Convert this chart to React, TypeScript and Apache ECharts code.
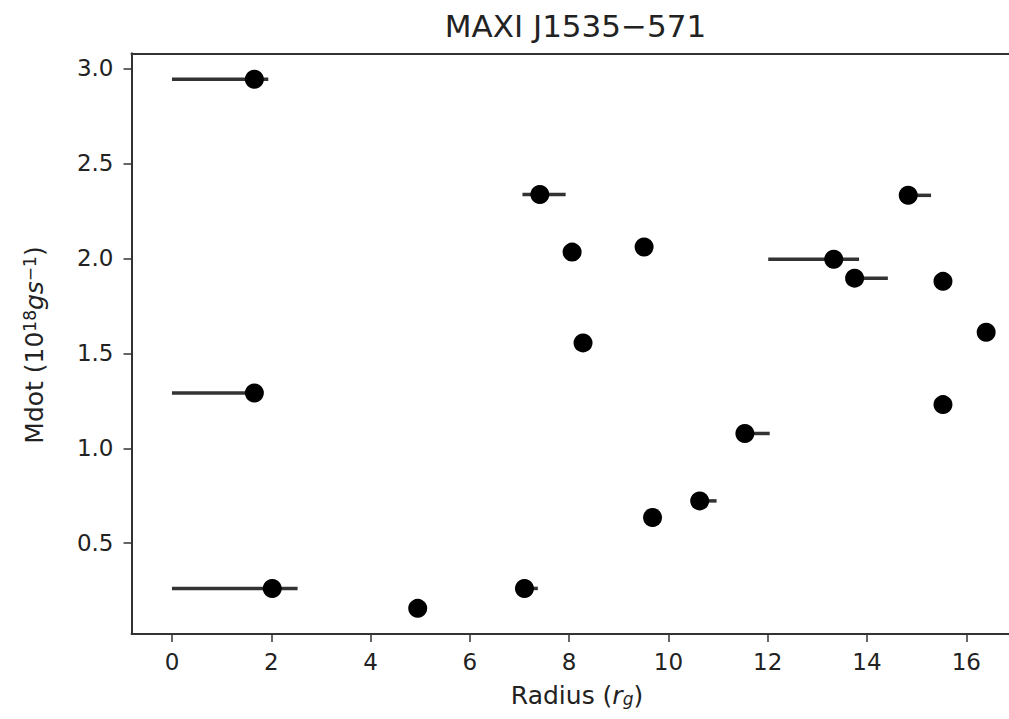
import React, { useEffect, useRef } from "react";
import * as echarts from "echarts";

// Data
const radius = [1.66, 1.66, 2.02, 4.95, 7.1, 7.41, 8.06, 8.28, 9.51, 9.68, 10.63, 11.54, 13.33, 13.75, 14.83, 15.53, 16.4, 15.53];
const mdot = [2.943, 1.291, 0.262, 0.157, 0.262, 2.336, 2.033, 1.555, 2.06, 0.635, 0.723, 1.078, 1.995, 1.896, 2.332, 1.879, 1.611, 1.23];
const radiusLow = [0, 0, 0, 4.95, 7.1, 7.06, 8.06, 8.28, 9.51, 9.68, 10.63, 11.54, 12.01, 13.75, 14.83, 15.53, 16.4, 15.53];
const radiusHigh = [1.94, 1.7, 2.53, 4.95, 7.37, 7.93, 8.06, 8.28, 9.51, 9.68, 10.97, 12.04, 13.84, 14.42, 15.29, 15.53, 16.4, 15.53];

const xTicks = [0, 2, 4, 6, 8, 10, 12, 14, 16];
const yTicks = [0.5, 1.0, 1.5, 2.0, 2.5, 3.0];

const titleText = "MAXI J1535\u2212571";
const font = "DejaVu Sans";
const X_MIN = -0.815;
const X_MAX = 16.86;

export default function App() {
  const ref = useRef<HTMLDivElement>(null);
  useEffect(() => {
    if (!ref.current) return;
    const chart = echarts.init(ref.current, null, { renderer: "svg" });
    const points = radius.map((r, i) => [r, mdot[i]]);
    const bars = radius.map((r, i) => [r, mdot[i], radiusLow[i], radiusHigh[i]]);
    const spine = { show: true, onZero: false, lineStyle: { color: "#333", width: 2 } };
    chart.setOption({
      animation: false,
      backgroundColor: "#ffffff",
      grid: {
        left: 131.5,
        top: 53.3,
        right: 0,
        bottom: 85,
      },
      xAxis: [
        {
          type: "value",
          min: X_MIN,
          max: X_MAX,
          position: "bottom",
          splitLine: { show: false },
          axisLine: spine,
          axisTick: { show: true, length: 8, lineStyle: { color: "#333", width: 1.5 }, customValues: xTicks },
          axisLabel: {
            customValues: xTicks,
            margin: 16,
            fontFamily: font,
            fontSize: 23,
            color: "#222",
            formatter: (v: number) => String(v),
          },
        },
        {
          type: "value",
          min: X_MIN,
          max: X_MAX,
          position: "top",
          splitLine: { show: false },
          axisLine: spine,
          axisTick: { show: false },
          axisLabel: { show: false },
        },
      ],
      yAxis: {
        type: "value",
        min: 0.022,
        max: 3.08,
        splitLine: { show: false },
        axisLine: spine,
        axisTick: { show: true, length: 8, lineStyle: { color: "#333", width: 1.5 }, customValues: yTicks },
        axisLabel: {
          customValues: yTicks,
          margin: 18,
          fontFamily: font,
          fontSize: 23,
          color: "#222",
          formatter: (v: number) => v.toFixed(1),
        },
      },
      graphic: [
        {
          type: "text",
          x: 575.5,
          y: 26,
          style: {
            text: titleText,
            fontFamily: font,
            fontSize: 31,
            fill: "#222",
            textAlign: "center",
            textVerticalAlign: "middle",
          },
        },
        {
          type: "text",
          x: 577,
          y: 695,
          style: {
            text: "Radius ({it|r}{sub|g})",
            fontFamily: font,
            fontSize: 25,
            fill: "#222",
            textAlign: "center",
            textVerticalAlign: "middle",
            rich: {
              it: { fontFamily: font, fontSize: 25, fontStyle: "italic", fill: "#222" },
              sub: { fontFamily: font, fontSize: 17, fontStyle: "italic", fill: "#222", verticalAlign: "bottom", padding: [8, 0, 0, 0] },
            },
          },
        },
        {
          type: "text",
          x: 34,
          y: 345,
          rotation: Math.PI / 2,
          style: {
            text: "Mdot (10{sup|18}{it|gs}{sup|\u22121})",
            fontFamily: font,
            fontSize: 25,
            fill: "#222",
            textAlign: "center",
            textVerticalAlign: "middle",
            rich: {
              it: { fontFamily: font, fontSize: 25, fontStyle: "italic", fill: "#222" },
              sup: { fontFamily: font, fontSize: 17, fill: "#222", verticalAlign: "top", padding: [0, 0, 8, 0] },
            },
          },
        },
      ],
      series: [
        {
          type: "custom",
          data: bars,
          encode: { x: 0, y: 1 },
          z: 1,
          renderItem: (params: any, api: any) => {
            const y = api.value(1);
            const lo = api.value(2);
            const hi = api.value(3);
            if (hi - lo <= 0) return null;
            const p1 = api.coord([lo, y]);
            const p2 = api.coord([hi, y]);
            return {
              type: "line",
              shape: { x1: p1[0], y1: p1[1], x2: p2[0], y2: p2[1] },
              style: { stroke: "#333", lineWidth: 3.5 },
            };
          },
        },
        {
          type: "scatter",
          data: points,
          symbol: "circle",
          symbolSize: 19,
          z: 2,
          itemStyle: { color: "#000", opacity: 1 },
        },
      ],
    });
    return () => chart.dispose();
  }, []);
  return (
    <div
      ref={ref}
      style={{ position: "fixed", left: 0, top: 0, width: 1009, height: 719, background: "#fff" }}
    />
  );
}
